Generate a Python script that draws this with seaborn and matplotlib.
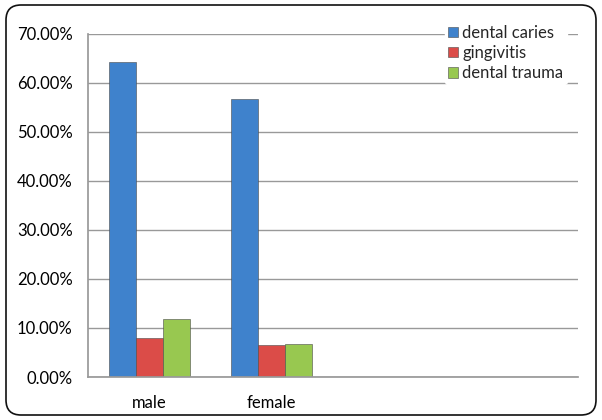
import pandas as pd
import seaborn as sns
import matplotlib.pyplot as plt
from matplotlib.patches import FancyBboxPatch
from matplotlib.ticker import PercentFormatter

groups = ['male', 'female']
slots = ['male', 'female', ' ', '  ']  # the chart leaves two empty category slots
diseases = ['dental caries', 'gingivitis', 'dental trauma']
caries = [64.1, 56.6]
gingivitis = [7.9, 6.5]
trauma = [11.8, 6.7]
colors = ['#3F82CC', '#DB4C48', '#98C850']

rows = []
for i, g in enumerate(groups):
    rows.append((g, 'dental caries', caries[i]))
    rows.append((g, 'gingivitis', gingivitis[i]))
    rows.append((g, 'dental trauma', trauma[i]))
df = pd.DataFrame(rows, columns=['sex', 'disease', 'value'])

sns.set_theme(style='white')
plt.rcParams['font.family'] = ['Lato', 'DejaVu Sans']

fig = plt.figure(figsize=(6.02, 4.2), dpi=100)
ax = fig.add_axes([88 / 602, 1 - 377 / 420, 490 / 602, 343.5 / 420])

sns.barplot(data=df, x='sex', y='value', hue='disease', order=slots,
            hue_order=diseases, palette=colors, saturation=1, width=0.664, gap=0,
            edgecolor='#4a4a4a', linewidth=0.4, ax=ax)

ax.set_ylim(0, 70)
ax.set_yticks(range(0, 71, 10))
ax.yaxis.set_major_formatter(PercentFormatter(decimals=2))
ax.grid(True, axis='y', color='#999999', linewidth=1)
ax.set_axisbelow(True)
for side in ['top', 'right']:
    ax.spines[side].set_visible(False)
for side in ['left', 'bottom']:
    ax.spines[side].set_color('#999999')
ax.tick_params(axis='both', labelsize=12, colors='#000000', length=0)
ax.tick_params(axis='y', pad=11)
ax.tick_params(axis='x', pad=13)
ax.set(xlabel='', ylabel='')

leg = ax.legend(loc='upper left', bbox_to_anchor=(0.728, 1.035), frameon=True,
                edgecolor='white', framealpha=1, fontsize=12,
                handlelength=0.6, handleheight=0.6, handletextpad=0.25,
                labelspacing=0.25, borderpad=0.2, borderaxespad=0)

fig.patches.append(FancyBboxPatch((0.06, 0.05), 5.9, 4.1,
                                  boxstyle='round,pad=0,rounding_size=0.15',
                                  transform=fig.dpi_scale_trans, fill=False,
                                  edgecolor='#111111', linewidth=1.2))

plt.savefig('out.png', dpi=100)
